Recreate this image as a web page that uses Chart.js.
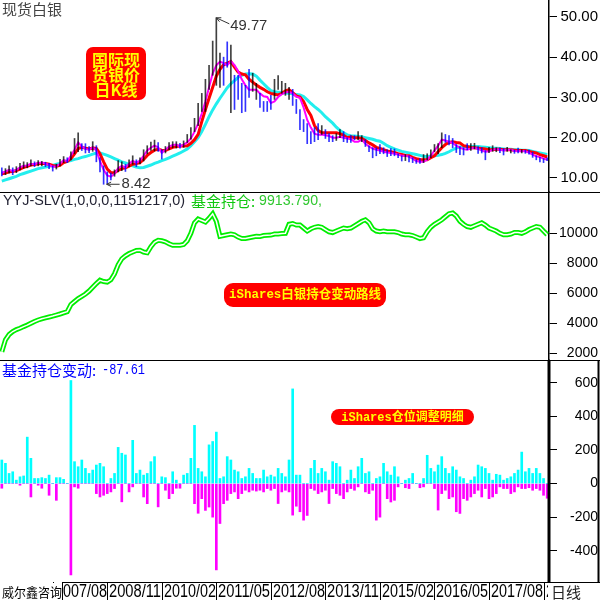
<!DOCTYPE html>
<html><head><meta charset="utf-8">
<script src="https://cdn.jsdelivr.net/npm/chart.js@4.4.0/dist/chart.umd.min.js"></script>
<style>html,body{margin:0;padding:0;background:#fff}#wrap{position:relative;width:600px;height:600px}canvas{display:block}</style>
</head><body><div id="wrap"><canvas id="c" width="600" height="600"></canvas></div>
<script>
// ---- categories: months 2006/06 .. 2018/12 ----
const startYear = 2006, startMonth = 6, monthCount = 151;
const months = [];
for (let k = 0; k < monthCount; k++) { const m = startMonth - 1 + k; months.push((startYear + Math.floor(m / 12)) + '/' + String(m % 12 + 1).padStart(2, '0')); }

const xTickLabels = ['2007/08','2008/11','2010/02','2011/05','2012/08','2013/11','2015/02','2016/05','2017/08','2018/11'];
const priceTicks = [10, 20, 30, 40, 50];
const holdTicks = [2000, 4000, 6000, 8000, 10000];
const changeTicks = [-400, -200, 0, 200, 400, 600];

// ---- silver price (USD/oz): fast MA (magenta), mid MA (red), slow MA (cyan), monthly high / low ----
const maFast = [
11.3,11.6,12.0,11.7,12.0,12.6,13.0,13.1,13.5,13.4,
13.7,13.8,13.6,13.2,12.8,12.9,13.5,14.4,14.2,15.5,
17.0,18.8,17.8,17.2,17.0,17.6,16.8,14.2,12.0,10.6,
10.3,11.0,12.4,13.0,12.6,13.5,14.2,13.8,14.3,15.5,
16.8,17.5,18.0,17.6,16.2,17.0,17.8,18.2,18.3,17.8,
18.3,18.8,19.8,21.5,23.5,26.0,29.0,32.5,36.0,38.0,
38.9,38.5,38.0,39.0,38.0,36.5,34.5,33.0,31.9,31.9,
31.9,31.0,30.3,30.1,28.6,29.0,30.1,30.8,31.2,31.4,
31.0,30.2,29.9,27.5,24.4,22.5,21.0,20.7,20.8,20.6,
20.4,20.0,20.0,20.2,20.0,19.8,19.6,19.0,19.0,19.5,
18.5,17.8,17.3,17.0,16.8,16.5,16.3,16.2,16.0,15.8,
15.5,15.5,15.3,14.8,14.2,14.0,14.0,14.5,15.5,16.8,
18.0,19.5,19.3,19.0,18.7,18.0,17.5,17.2,17.0,17.3,
17.5,17.2,16.8,16.5,16.6,17.0,17.2,17.0,16.8,17.0,
17.0,16.7,16.6,16.7,16.6,16.3,15.8,15.4,15.2,14.8,
14.5];
const maMid = [
11.0,11.2,11.5,11.6,11.8,12.2,12.6,12.9,13.2,13.3,
13.5,13.6,13.6,13.4,13.1,12.9,13.1,13.8,14.1,14.8,
16.0,17.3,17.6,17.4,17.2,17.4,17.3,16.0,14.0,12.2,
11.3,11.3,11.9,12.3,12.5,12.9,13.4,13.6,13.8,14.6,
15.6,16.3,16.9,17.1,16.9,16.8,17.2,17.6,17.8,17.9,
17.9,18.0,18.6,19.5,20.8,24.0,27.0,29.8,32.5,35.3,
37.0,38.1,38.5,38.9,37.5,36.3,35.8,35.6,34.5,33.8,
33.1,32.5,32.0,31.4,31.0,30.8,30.6,31.0,31.6,31.9,
31.2,30.4,30.1,29.0,27.0,25.5,23.0,21.8,21.2,21.2,
21.2,21.2,21.2,21.0,20.6,20.0,20.2,20.0,20.0,19.8,
19.3,18.7,18.2,17.6,17.3,17.0,16.7,16.5,16.3,16.0,
15.8,15.6,15.5,15.1,14.8,14.6,14.5,14.5,15.0,15.5,
16.5,17.5,18.3,18.8,19.0,18.8,18.7,18.0,17.8,17.5,
17.5,17.4,17.3,17.2,17.0,17.0,17.1,17.1,17.0,17.0,
17.0,16.9,16.8,16.8,16.8,16.6,16.4,16.2,15.8,15.5,
15.2];
const maSlow = [
9.2,9.5,9.8,10.1,10.4,10.8,11.1,11.4,11.7,12.0,
12.3,12.5,12.7,12.9,13.1,13.4,13.6,13.9,14.1,14.3,
14.6,14.8,15.1,15.3,15.6,15.9,16.2,16.2,15.9,15.6,
15.2,14.8,14.4,14.0,13.7,13.3,13.0,12.7,12.5,12.6,
12.9,13.2,13.6,13.9,14.3,14.6,15.0,15.4,15.8,16.2,
16.7,17.2,18.0,19.0,20.0,21.5,23.3,25.2,26.9,28.4,
29.8,31.1,32.4,33.4,34.2,35.0,35.5,35.8,35.9,35.8,
35.3,34.3,33.4,32.5,31.7,31.4,31.3,31.2,31.1,31.0,
30.9,30.7,30.6,30.2,29.4,28.5,27.7,27.0,26.2,25.2,
24.4,23.6,22.6,21.8,21.2,20.7,20.5,20.4,20.3,20.2,
20.0,19.8,19.6,19.3,19.1,18.6,18.0,17.6,17.2,16.9,
16.6,16.4,16.2,16.0,15.8,15.6,15.4,15.3,15.4,15.5,
15.6,15.8,16.1,16.5,17.0,17.4,17.7,17.8,17.8,17.8,
17.8,17.8,17.7,17.6,17.5,17.4,17.4,17.3,17.2,17.1,
17.1,17.0,17.0,16.9,16.9,16.8,16.6,16.4,16.2,16.0,
15.8];
const priceHigh = [
12.5,12.3,13.0,12.5,12.8,13.6,14.0,13.8,14.5,14.0,
14.3,14.1,13.9,13.6,13.0,13.4,14.6,15.3,15.0,16.5,
19.8,21.2,18.5,18.5,17.8,19.0,18.0,15.0,13.0,11.5,
11.2,12.0,14.3,14.0,13.4,14.5,15.5,14.5,15.0,17.0,
18.0,18.9,19.4,18.8,17.0,17.8,18.8,19.0,19.0,18.6,
19.2,20.8,22.5,24.8,28.5,31.0,34.5,38.0,44.0,49.77,
41.0,40.0,43.8,43.0,35.5,35.5,33.5,33.0,37.0,36.0,
33.5,31.0,29.0,29.0,30.5,34.5,35.4,34.0,33.5,32.5,
32.0,29.5,27.0,24.5,23.5,21.5,22.5,23.5,23.0,22.0,
21.0,20.5,21.0,22.0,21.5,20.0,20.5,20.5,21.5,20.5,
19.5,18.0,17.5,17.5,18.3,17.5,17.0,17.3,17.2,16.0,
15.5,15.8,15.5,15.0,14.5,14.8,15.8,16.0,17.0,18.3,
18.5,21.2,20.8,20.5,19.8,18.3,17.8,17.5,18.5,18.5,
18.6,17.8,17.5,16.8,17.6,18.0,17.5,17.5,17.3,17.6,
17.0,16.9,17.4,17.0,16.9,16.9,16.4,15.5,15.1,14.8,
15.0];
const priceLow = [
10.5,10.8,11.2,10.8,11.3,12.0,12.4,12.5,13.0,12.8,
13.0,13.0,12.8,12.3,11.7,12.2,13.0,13.8,13.8,14.5,
16.0,16.5,16.8,16.2,16.3,16.6,14.0,11.5,8.42,8.6,
9.5,10.4,11.5,11.8,11.6,12.8,13.4,12.8,13.5,14.2,
16.0,16.8,16.7,16.6,14.7,16.2,17.0,17.5,17.4,17.4,
17.6,18.8,19.6,21.5,23.0,26.5,26.5,32.0,35.5,33.0,
32.5,33.0,37.5,26.2,27.0,29.5,26.2,26.5,30.0,31.5,
29.5,27.5,26.5,26.5,27.0,29.5,32.0,31.0,30.5,29.5,
28.0,26.0,22.0,21.5,18.5,18.5,19.0,19.5,20.8,19.8,
19.0,19.0,19.3,20.0,19.0,18.8,18.8,19.5,19.5,19.0,
17.8,16.5,15.0,15.5,16.0,16.0,15.3,15.5,15.5,15.0,
14.2,14.3,14.0,13.8,13.6,13.6,13.8,14.5,15.0,16.5,
16.0,17.5,18.8,18.2,17.5,16.3,15.8,15.7,17.0,16.8,
17.2,16.1,16.2,14.5,16.3,16.6,16.5,16.3,15.7,16.6,
16.2,16.1,16.2,16.2,16.1,15.9,15.1,14.5,14.0,13.8,
14.3];

// ---- iShares SLV holdings (tonnes) ----
const holdings = [
2100,2900,3250,3450,3580,3670,3780,3880,4000,4120,
4220,4300,4360,4420,4480,4550,4620,4700,4780,5250,
5450,5650,5800,5950,6150,6400,6650,6870,6780,6750,
6900,7300,7900,8300,8500,8650,8750,8850,8870,8750,
8700,9100,9400,9530,9500,9430,9300,9200,9200,9200,
9250,9500,10000,10700,10950,10850,10750,11000,11300,10800,
9800,9850,9900,9950,9900,9750,9650,9650,9700,9750,
9800,9780,9850,9870,9880,9950,9950,9980,10000,10600,
10650,10550,10550,10350,10150,10300,10400,10450,10400,10250,
10100,10050,10150,10250,10350,10300,10350,10500,10650,10800,
10900,10700,10300,10150,10100,10150,10100,10100,10100,10050,
9950,9900,9900,9850,9750,9650,9700,10100,10400,10600,
10750,10900,11100,11300,11350,11150,10800,10600,10450,10400,
10500,10600,10700,10550,10350,10250,10150,10000,9900,9900,
9950,10050,10050,10000,10100,10250,10350,10450,10400,10150,
9913.79];

// ---- holding changes (tonnes): inflows / outflows ----
const inflow = [
140,120,60,70,20,40,45,276,150,30,
30,35,30,50,0,35,35,25,0,613,
130,100,140,90,60,80,110,120,100,0,
30,60,215,180,170,0,257,60,80,50,
60,130,160,0,40,35,0,70,20,0,
50,60,150,346,90,70,40,230,250,306,
30,40,160,140,80,70,30,40,90,60,
30,30,80,40,50,40,90,60,40,140,
563,50,50,0,0,90,138,60,90,70,
20,130,120,100,0,20,80,30,100,150,
60,70,0,30,40,120,70,50,100,40,
0,20,30,60,0,0,30,168,90,70,
110,160,90,60,100,80,40,30,0,20,
40,110,100,90,60,20,55,50,20,30,
40,60,80,187,70,90,60,90,60,30,
0];
const outflow = [
-28,0,0,0,0,-10,0,0,-80,0,
-10,-28,0,-70,0,-100,0,0,0,-544,
-20,-28,0,0,0,0,-60,-80,-70,-60,
-50,-30,0,-109,0,-50,-20,0,0,-80,
-120,0,0,-139,0,-40,-90,-60,-28,-28,
0,0,0,-120,-177,-90,-160,-140,-200,-514,
-238,-120,-100,-60,-50,-90,-60,-40,-50,-40,
-45,-40,-50,-30,-40,-30,-119,-50,-40,-50,
-188,-135,-168,-218,-190,-30,-40,-60,-50,-40,
-119,-30,-60,-70,-90,-50,-30,-40,-20,0,
-50,-60,-40,-218,-200,0,-90,-110,-100,-20,
0,-25,-30,0,0,-25,-20,0,0,-30,
-158,-60,-40,-90,-80,-168,-178,-90,-100,-80,
-60,-40,-80,-30,-90,-80,-60,-20,-30,-30,
-60,-50,-20,-30,-30,-25,-40,-30,-40,-70,
-87.61];

const CJK = '"Noto Sans CJK SC", sans-serif';
const SANS = '"Liberation Sans", Arial, sans-serif';
Chart.defaults.font.family = SANS;

function line(ctx, x1, y1, x2, y2) { ctx.beginPath(); ctx.moveTo(x1, y1); ctx.lineTo(x2, y2); ctx.stroke(); }
function txt(ctx, s, x, y, font, color, align, maxW) {
  ctx.font = font; ctx.fillStyle = color; ctx.textAlign = align || 'left'; ctx.textBaseline = 'middle';
  if (maxW) ctx.fillText(s, x, y, maxW); else ctx.fillText(s, x, y);
}
function rrect(ctx, x, y, w, h, r, color) {
  ctx.fillStyle = color; ctx.beginPath();
  ctx.moveTo(x + r, y); ctx.lineTo(x + w - r, y); ctx.arcTo(x + w, y, x + w, y + r, r);
  ctx.lineTo(x + w, y + h - r); ctx.arcTo(x + w, y + h, x + w - r, y + h, r);
  ctx.lineTo(x + r, y + h); ctx.arcTo(x, y + h, x, y + h - r, r);
  ctx.lineTo(x, y + r); ctx.arcTo(x, y, x + r, y, r); ctx.closePath(); ctx.fill();
}
function arrowHead(ctx, x, y, ang) {
  const L = 5;
  line(ctx, x, y, x + L * Math.cos(ang + 0.45), y + L * Math.sin(ang + 0.45));
  line(ctx, x, y, x + L * Math.cos(ang - 0.45), y + L * Math.sin(ang - 0.45));
}

const deco = {
  id: 'deco',
  afterDraw(chart) {
    const ctx = chart.ctx;
    const xs = chart.scales.x, ps = chart.scales.y1, hs = chart.scales.y2, cs = chart.scales.y3;
    const W = chart.width, H = chart.height;
    const right = xs.right, bottom = cs.bottom;
    ctx.save();
    ctx.strokeStyle = '#000'; ctx.lineWidth = 1;
    // panel separators
    line(ctx, 0, Math.round(hs.top) + 0.5, W, Math.round(hs.top) + 0.5);
    line(ctx, 0, Math.round(cs.top) + 0.5, W, Math.round(cs.top) + 0.5);
    // box round the lower axis
    ctx.lineWidth = 2; line(ctx, W - 1.5, cs.top, W - 1.5, bottom + 1);
    ctx.lineWidth = 3; line(ctx, right, cs.top, right, bottom);
    ctx.lineWidth = 1;
    line(ctx, right, Math.round(bottom) + 0.5, W, Math.round(bottom) + 0.5);
    // x labels
    ctx.save(); ctx.beginPath(); ctx.rect(0, bottom, right - 1, H - bottom); ctx.clip();
    xTickLabels.forEach(lab => {
      const idx = months.indexOf(lab);
      const px = Math.round(xs.getPixelForValue(idx)) + 0.5;
      ctx.strokeStyle = '#000'; line(ctx, px, bottom, px, H);
      ctx.font = '18px ' + SANS; ctx.fillStyle = '#000'; ctx.textAlign = 'left'; ctx.textBaseline = 'alphabetic';
      ctx.fillText(lab, px + 1.5, H - 3, 52);
    });
    ctx.restore();
    ctx.fillStyle = '#fff'; ctx.fillRect(0, bottom + 1, 62, H - bottom);
    line(ctx, 62.5, bottom, 62.5, H);
    line(ctx, 62, Math.round(bottom) + 0.5, right, Math.round(bottom) + 0.5);
    txt(ctx, '威尔鑫咨询', 2, 592, '13px ' + CJK, '#000', 'left', 60);
    txt(ctx, '日线', right + 2, 592, '15px ' + CJK, '#222', 'left');

    // price panel annotations
    let iMax = 0, iMin = 0;
    priceHigh.forEach((v, i) => { if (v > priceHigh[iMax]) iMax = i; });
    priceLow.forEach((v, i) => { if (v < priceLow[iMin]) iMin = i; });
    const mx = xs.getPixelForValue(iMax), my = ps.getPixelForValue(priceHigh[iMax]);
    ctx.strokeStyle = '#333'; ctx.lineWidth = 1;
    line(ctx, mx, my, mx + 13, my + 6); arrowHead(ctx, mx, my, Math.atan2(6, 13));
    txt(ctx, priceHigh[iMax].toFixed(2), mx + 14, my + 8, '15px ' + SANS, '#333', 'left', 37);
    const lx = xs.getPixelForValue(iMin), ly = ps.getPixelForValue(priceLow[iMin]);
    line(ctx, lx + 3, ly, lx + 16, ly); arrowHead(ctx, lx + 3, ly, 0);
    txt(ctx, priceLow[iMin].toFixed(2), lx + 18, ly, '15px ' + SANS, '#333', 'left', 29);

    // titles
    txt(ctx, '现货白银', 2, ps.top + 9, '15px ' + CJK, '#444');
    txt(ctx, 'YYJ-SLV(1,0,0,0,1151217,0)', 3, hs.top + 9, '15px ' + SANS, '#223', 'left', 182);
    txt(ctx, '基金持仓:', 191, hs.top + 9, '15px ' + CJK, '#10c810');
    txt(ctx, holdings[holdings.length - 1].toFixed(3) + ',', 259, hs.top + 9, '15px ' + SANS, '#30c830', 'left', 63);
    const lastChange = inflow[inflow.length - 1] + outflow[outflow.length - 1];
    txt(ctx, '基金持仓变动:', 2, cs.top + 10, '15px ' + CJK, '#0000ff', 'left', 95);
    txt(ctx, lastChange.toFixed(2), 102, cs.top + 10, '14px "Liberation Mono", monospace', '#0000ff', 'left', 43);

    // red badges
    rrect(ctx, 86, 47, 60, 53, 7, '#ff0000');
    ['国际现', '货银价', '日K线'].forEach((s, k) => txt(ctx, s, 116, 60 + k * 15, 'bold 16px ' + CJK, '#ffff00', 'center', 52));
    rrect(ctx, 224, 283, 162, 24, 9, '#ff0000');
    txt(ctx, 'iShares白银持仓变动路线', 305, 295, 'bold 13px "Liberation Mono", ' + CJK, '#ffff00', 'center', 152);
    rrect(ctx, 331, 409, 143, 16, 8, '#ff0000');
    txt(ctx, 'iShares仓位调整明细', 402.5, 417.5, 'bold 12px "Liberation Mono", ' + CJK, '#ffff00', 'center', 128);
    ctx.restore();
  }
};

function yAxis(weight, stackWeight, min, max, tickList, fmt, size, pad) {
  return {
    type: 'linear', position: 'right', stack: 'panels', stackWeight: stackWeight, weight: weight,
    min: min, max: max,
    afterBuildTicks: s => { s.ticks = tickList.map(v => ({ value: v })); },
    afterFit: s => { s.width = 49; s.paddingTop = 0; s.paddingBottom = 0; s.paddingLeft = 0; s.paddingRight = 0; },
    ticks: { crossAlign: 'far', color: '#000', font: { size: size, family: SANS }, padding: pad, autoSkip: false, callback: fmt },
    grid: { drawOnChartArea: false, drawTicks: true, tickLength: 8, color: '#000', tickColor: '#000', tickWidth: 1 },
    border: { display: true, color: '#000', width: 1.5 }
  };
}

new Chart(document.getElementById('c'), {
  type: 'bar',
  data: {
    labels: months,
    datasets: [
      { type: 'bar', yAxisID: 'y1', data: priceLow.map((l, i) => [l, priceHigh[i]]), grouped: false, barThickness: 1, order: 1,
        backgroundColor: ctx => { const i = ctx.dataIndex; return (i > 0 && maFast[i] >= maFast[i - 1]) ? 'rgba(0,0,0,0.75)' : 'rgba(0,0,255,0.8)'; } },
      { type: 'line', yAxisID: 'y1', data: maFast, borderColor: '#ff00ff', borderWidth: 2, pointRadius: 0, tension: 0, order: 2 },
      { type: 'line', yAxisID: 'y1', data: maMid, borderColor: '#ff0000', borderWidth: 3, pointRadius: 0, tension: 0, order: 3 },
      { type: 'line', yAxisID: 'y1', data: maSlow, borderColor: '#22eeee', borderWidth: 3, pointRadius: 0, tension: 0, order: 4 },
      { type: 'line', yAxisID: 'y2', data: holdings, borderColor: '#ffffff', borderWidth: 1.5, pointRadius: 0, tension: 0, order: 5 },
      { type: 'line', yAxisID: 'y2', data: holdings, borderColor: '#00ee00', borderWidth: 5, pointRadius: 0, tension: 0, order: 6 },
      { type: 'bar', yAxisID: 'y3', data: inflow, backgroundColor: '#00ffff', barThickness: 2, grouped: false, order: 7 },
      { type: 'bar', yAxisID: 'y3', data: outflow, backgroundColor: '#ff00ff', barThickness: 2, grouped: false, order: 8 }
    ]
  },
  options: {
    responsive: false, animation: false, devicePixelRatio: 1,
    layout: { autoPadding: false, padding: { left: 0, right: 2, top: 0, bottom: 18 } },
    plugins: { legend: { display: false }, tooltip: { enabled: false } },
    scales: {
      x: { type: 'category', display: false, offset: true },
      y1: yAxis(1, 192, 6.5, 54.2, priceTicks, v => Number(v).toFixed(2), 15, 3),
      y2: yAxis(2, 168, 1553, 12753, holdTicks, v => String(v), 14, 1),
      y3: yAxis(3, 222, -586, 735, changeTicks, v => String(v), 14, 11)
    }
  },
  plugins: [deco]
});
</script></body></html>
